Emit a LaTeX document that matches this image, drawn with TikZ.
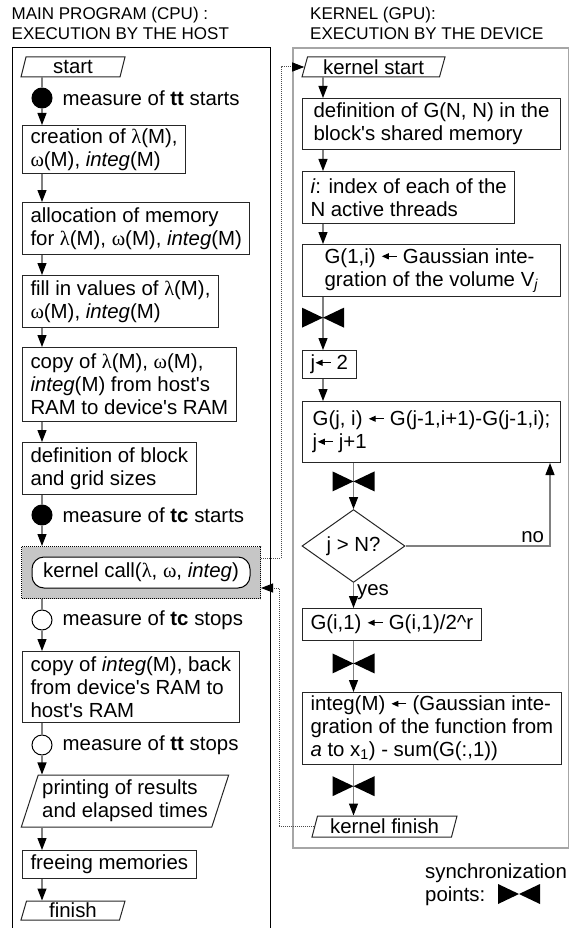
\documentclass[tikz,border=0pt]{standalone}
\usepackage{fontspec}
\setmainfont{Liberation Sans}
\newfontfamily\grkfont{Liberation Serif}
\usetikzlibrary{shapes.geometric, arrows.meta, positioning, calc, fit, backgrounds}
\newcommand{\flowfont}{\fontsize{20.4}{23}\selectfont}
\newcommand{\headfont}{\fontsize{17}{20}\selectfont}
\newcommand{\lam}{{\grkfont λ}}
\newcommand{\om}{{\grkfont ω}}
\newcommand{\getsarr}{\tikz[baseline=-0.65ex, x=1pt, y=1pt] \draw[line width=1pt, -{Triangle[length=7pt, width=6pt]}] (15,0) -- (0,0);}
\newcommand{\apos}{\textquotesingle}
\tikzset{
  hostframe/.style={
    rectangle,
    draw=black,
    line width=1pt,
    anchor=north west,
    inner sep=0pt
  },
  deviceframe/.style={
    rectangle,
    draw=gray!70,
    line width=2pt,
    anchor=north west,
    inner sep=0pt
  },
  coltitle/.style={
    anchor=north west,
    inner sep=0pt,
    align=left,
    font=\headfont
  },
  flowbox/.style={
    rectangle,
    draw=black!85,
    line width=1pt,
    fill=white,
    align=left,
    anchor=north west,
    inner xsep=8pt,
    inner ysep=2pt,
    font=\flowfont
  },
  iobox/.style={
    trapezium,
    trapezium left angle=72,
    trapezium right angle=108,
    trapezium stretches body,
    draw=black!85,
    line width=1pt,
    align=left,
    inner xsep=4pt,
    inner ysep=1pt,
    font=\flowfont
  },
  measure/.style={
    circle,
    draw=black,
    line width=1pt,
    minimum size=20pt,
    inner sep=0pt
  },
  note/.style={
    inner sep=0pt,
    text=black,
    font=\flowfont
  },
  callbox/.style={
    rectangle,
    rounded corners=12pt,
    draw=black,
    line width=1pt,
    fill=white,
    font=\flowfont
  },
  callframe/.style={
    rectangle,
    draw=black,
    densely dotted,
    line width=1pt,
    fill=gray!45,
    inner xsep=10pt,
    inner ysep=10pt
  },
  decision/.style={
    diamond,
    draw=black!85,
    line width=1pt,
    minimum width=103pt,
    minimum height=62pt,
    inner sep=0pt,
    font=\flowfont
  },
  flow/.style={
    gray,
    line width=1.2pt,
    -{Triangle[length=12pt, width=9pt, color=black, fill=black]}
  },
  plain/.style={
    gray,
    line width=1.2pt
  },
  link/.style={
    black!70,
    densely dotted,
    line width=1pt,
    -{Triangle[length=12pt, width=9pt, color=black, fill=black]}
  },
  sync/.pic={
    \fill[black] (-21,-10) -- (0,0) -- (-21,10) -- cycle
                 (21,-10) -- (0,0) -- (21,10) -- cycle;
  }
}

\begin{document}
\begin{tikzpicture}[x=1pt, y=-1pt]
  \useasboundingbox (0,0) rectangle (569,928);

  % HOST (CPU)
  \node (G_host) [hostframe, minimum width=258pt, minimum height=900pt] at (12,47) {};
  \node [coltitle] at (11.5,6.5) {MAIN PROGRAM (CPU) :\\EXECUTION BY THE HOST};

  \node (start)    [iobox, minimum width=104pt, minimum height=20pt] at (73,67) {start};
  \node (ttstart)  [measure, fill=black] at (42,98) {};
  \node [note, right=10pt of ttstart] {measure of \textbf{tt} starts};
  \node (create)   [flowbox, minimum height=48pt] at (22,125) {creation of \lam(M),\\\om(M), \textit{integ}(M)};
  \node (alloc)    [flowbox, minimum height=52pt] at (22,202) {allocation of memory\\for \lam(M), \om(M), \textit{integ}(M)};
  \node (fillin)   [flowbox, minimum height=52pt] at (22,275) {fill in values of \lam(M),\\\om(M), \textit{integ}(M)};
  \node (copyto)   [flowbox, minimum height=74pt] at (22,347) {copy of \lam(M), \om(M),\\\textit{integ}(M) from host\apos s\\RAM to device\apos s RAM};
  \node (sizes)    [flowbox, minimum height=52pt] at (22,442) {definition of block\\and grid sizes};
  \node (tcstart)  [measure, fill=black] at (42,515) {};
  \node [note, right=10pt of tcstart] {measure of \textbf{tc} starts};

  \node (kcall) [callbox, minimum width=218pt, minimum height=31pt] at (141,572.5) {kernel call(\lam, \om, \textit{integ})};
  \begin{scope}[on background layer]
    \node (kcallbg) [callframe, fit=(kcall)] {};
  \end{scope}

  \node (tcstop)   [measure, fill=white] at (42,620) {};
  \node [note, right=10pt of tcstop] {measure of \textbf{tc} stops};
  \node (copyback) [flowbox, minimum height=71pt] at (22,651) {copy of \textit{integ}(M), back\\from device\apos s RAM to\\host\apos s RAM};
  \node (ttstop)   [measure, fill=white] at (42,745) {};
  \node [note, right=10pt of ttstop] {measure of \textbf{tt} stops};
  \node (results)  [iobox, trapezium left angle=69, trapezium right angle=111, minimum width=206pt, minimum height=52pt] at (125,801) {printing of results\\and elapsed times};
  \node (freemem)  [flowbox, minimum height=28pt] at (22,850) {freeing memories};
  \node (finish)   [iobox, minimum width=104pt, minimum height=19pt] at (73,910.5) {finish};

  \draw[plain] (start.south -| ttstart) -- (ttstart);
  \draw[flow]  (ttstart) -- (ttstart |- create.north);
  \draw[flow]  (create.south -| ttstart) -- (alloc.north -| ttstart);
  \draw[flow]  (alloc.south -| ttstart) -- (fillin.north -| ttstart);
  \draw[flow]  (fillin.south -| ttstart) -- (copyto.north -| ttstart);
  \draw[flow]  (copyto.south -| ttstart) -- (sizes.north -| ttstart);
  \draw[plain] (sizes.south -| tcstart) -- (tcstart);
  \draw[flow]  (tcstart) -- (tcstart |- kcallbg.north);
  \draw[plain] (kcallbg.south -| tcstop) -- (tcstop);
  \draw[flow]  (tcstop) -- (tcstop |- copyback.north);
  \draw[plain] (copyback.south -| ttstop) -- (ttstop);
  \draw[flow]  (ttstop) -- (ttstop |- results.north);
  \draw[flow]  (results.south -| ttstop) -- (freemem.north -| ttstop);
  \draw[flow]  (freemem.south -| ttstop) -- (finish.north -| ttstop);

  % DEVICE (GPU)
  \node (G_device) [deviceframe, minimum width=276pt, minimum height=800pt] at (292,47) {};
  \node [coltitle] at (310,6.5) {KERNEL (GPU):\\EXECUTION BY THE DEVICE};

  \coordinate (colA) at (323,0);
  \coordinate (noline) at (550,0);
  \coordinate (goline) at (281,0);
  \coordinate (backline) at (279,0);

  \node (kstart)  [iobox, minimum width=143pt, minimum height=20pt] at (373.5,67) {kernel start};
  \node (gdef)    [flowbox, minimum width=258pt, minimum height=51pt] at (302,98) {definition of G(N, N) in the\\block\apos s shared memory};
  \node (thread)  [flowbox, minimum height=52pt] at (302,171) {\textit{i}: index of each of the\\N active threads};
  \node (gfirst)  [flowbox, minimum width=258pt, minimum height=52pt] at (302,244) {G(1,i) \getsarr{} Gaussian inte-\\gration of the volume V\textsubscript{\textit{j}}};
  \node (jinit)   [flowbox, minimum height=28pt] at (302,350) {j\getsarr{} 2};
  \node (grec)    [flowbox, minimum width=258pt, minimum height=61pt] at (302,401) {G(j, i) \getsarr{} G(j-1,i+1)-G(j-1,i);\\j\getsarr{} j+1};
  \node (test)    [decision] at (353.5,546) {j > N?};
  \node (gnorm)   [flowbox, minimum height=32pt] at (302,608) {G(i,1) \getsarr{} G(i,1)/2\textasciicircum r};
  \node (integ)   [flowbox, minimum width=258pt, minimum height=72pt] at (302,692) {integ(M) \getsarr{} (Gaussian inte-\\gration of the function from\\\textit{a} to x\textsubscript{1}) - sum(G(:,1))};
  \node (kfinish) [iobox, minimum width=145pt, minimum height=21pt] at (384.5,826.5) {kernel finish};

  \draw[flow] (kstart.south -| colA) -- (gdef.north -| colA);
  \draw[flow] (gdef.south -| colA) -- (thread.north -| colA);
  \draw[flow] (thread.south -| colA) -- (gfirst.north -| colA);
  \draw[flow] (gfirst.south -| colA) -- coordinate[pos=0.39] (sync1) (jinit.north -| colA);
  \draw[flow] (jinit.south -| colA) -- (grec.north -| colA);
  \draw[flow] (grec.south -| test) -- coordinate[pos=0.4] (sync2) (test.north);
  \draw[flow] (test.east) -| node[note, above=3pt, pos=0.44] {no} (grec.south -| noline);
  \draw[flow] (test.south) -- node[note, right=3pt, pos=0.35] {yes} (gnorm.north -| test);
  \draw[flow] (gnorm.south -| test) -- coordinate[pos=0.44] (sync3) (integ.north -| test);
  \draw[flow] (integ.south -| test) -- coordinate[pos=0.42] (sync4) (kfinish.north -| test);
  \foreach \s in {sync1, sync2, sync3, sync4}
    \pic at (\s) {sync};

  % KERNEL CALL LINKS
  \coordinate (callout) at ([yshift=14.5pt]kcallbg.east);
  \coordinate (callin) at ([yshift=-15.5pt]kcallbg.east);
  \draw[link] (callout) -| (kstart.west -| goline) -- (kstart.west);
  \draw[link] (kfinish.west) -| (callin -| backline) -- (callin);

  % LEGEND
  \node (synclegend) [note, align=left, anchor=north west] at (425,864) {synchronization\\points:};
  \pic at (519,894) {sync};

\end{tikzpicture}
\end{document}
